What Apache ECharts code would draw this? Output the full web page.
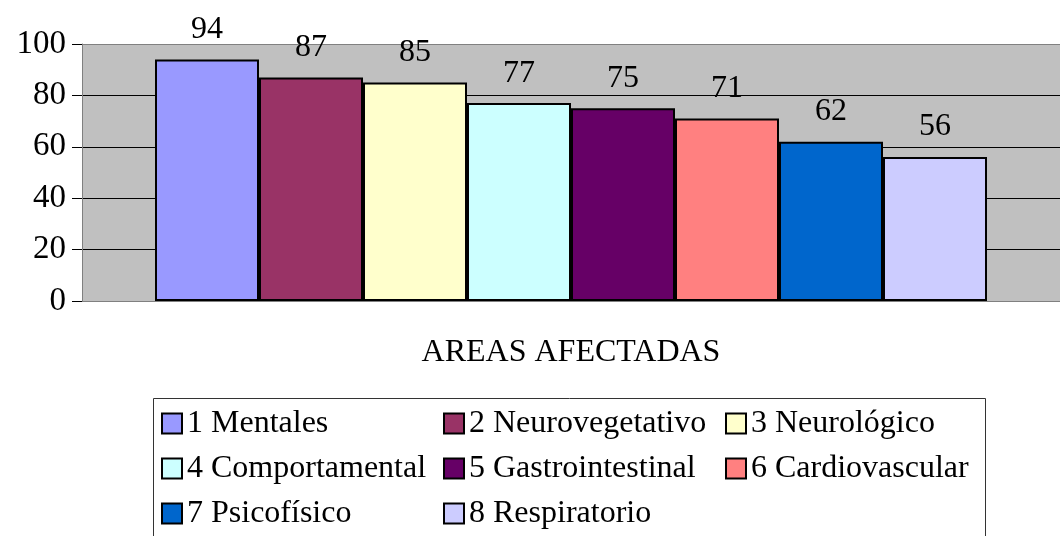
<!DOCTYPE html>
<html>
<head>
<meta charset="utf-8">
<script src="https://cdn.jsdelivr.net/npm/echarts@6/dist/echarts.min.js"></script>
<style>
  html, body { margin: 0; padding: 0; background: #fff; }
  #chart { width: 1060px; height: 536px; }
</style>
</head>
<body>
<div id="chart"></div>
<script>
const areaNames = [
  "1 Mentales",
  "2 Neurovegetativo",
  "3 Neurológico",
  "4 Comportamental",
  "5 Gastrointestinal",
  "6 Cardiovascular",
  "7 Psicofísico",
  "8 Respiratorio",
];
const areaValues = [94, 87, 85, 77, 75, 71, 62, 56];
const palette = ["#9999FF", "#993366", "#FFFFCC", "#CCFFFF", "#660066", "#FF8080", "#0066CC", "#CCCCFF"];
const axisTitle = "AREAS AFECTADAS";

const font = "'Liberation Serif', 'Times New Roman', serif";
const chart = echarts.init(document.getElementById("chart"));

const series = areaNames.map((name, i) => ({
  name: name,
  type: "bar",
  data: [areaValues[i]],
  barWidth: 104,
  barGap: "0%",
  itemStyle: { color: palette[i], borderColor: "#000", borderWidth: 2 },
  label: {
    show: true,
    position: "top",
    distance: 14,
    color: "#000",
    fontSize: 32,
    fontFamily: font,
  },
}));

const option = {
  animation: false,
  backgroundColor: "#fff",
  grid: {
    left: 82,
    top: 44,
    width: 990,
    bottom: 235,
    show: true,
    backgroundColor: "#C0C0C0",
    borderWidth: 0,
  },
  xAxis: {
    type: "category",
    data: [""],
    name: axisTitle,
    nameLocation: "middle",
    nameGap: 36,
    nameTextStyle: { color: "#000", fontSize: 32, fontFamily: font },
    axisLine: { lineStyle: { color: "#808080", width: 1 } },
    axisTick: { show: false },
    axisLabel: { show: false },
  },
  yAxis: {
    type: "value",
    min: 0,
    max: 100,
    interval: 20,
    axisLine: { show: true, lineStyle: { color: "#808080", width: 1 } },
    axisTick: { show: true, length: 10, lineStyle: { color: "#000" } },
    axisLabel: { color: "#000", fontSize: 33, fontFamily: font, margin: 16 },
    splitLine: {
      show: true,
      lineStyle: { color: ["#808080", "#000", "#000", "#000", "#000", "#808080"], width: 1 },
    },
  },
  legend: {
    data: areaNames,
    left: 161,
    top: 404,
    width: 840,
    padding: 0,
    itemGap: 6,
    itemWidth: 20,
    itemHeight: 20,
    icon: "rect",
    itemStyle: { borderColor: "#000", borderWidth: 2 },
    textStyle: {
      color: "#000",
      fontSize: 32,
      fontFamily: font,
      width: 250,
      lineHeight: 39,
    },
  },
  graphic: [
    {
      type: "rect",
      left: 153,
      top: 398,
      z: -1,
      shape: { width: 832, height: 150 },
      style: { fill: "#fff", stroke: "#333", lineWidth: 1 },
    },
  ],
  series: series,
};

chart.setOption(option);
</script>
</body>
</html>
